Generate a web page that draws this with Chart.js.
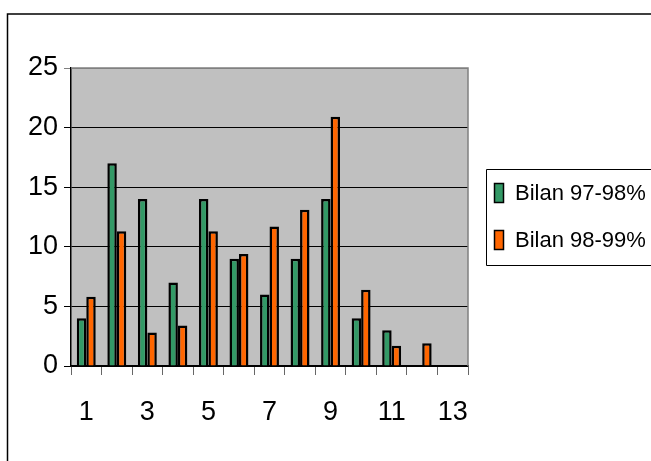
<!DOCTYPE html>
<html>
<head>
<meta charset="utf-8">
<script src="https://cdn.jsdelivr.net/npm/chart.js@4/dist/chart.umd.min.js"></script>
<style>
  html, body { margin: 0; padding: 0; background: #fff; }
  #wrap { width: 651px; height: 461px; }
</style>
</head>
<body>
<div id="wrap"><canvas id="bilan-chart" width="651" height="461"></canvas></div>
<script>
// données
const categories = ["1", "2", "3", "4", "5", "6", "7", "8", "9", "10", "11", "12", "13"];
const bilan9798 = [4, 17, 14, 7, 14, 9, 6, 9, 14, 4, 3, null, null];
const bilan9899 = [5.8, 11.3, 2.8, 3.4, 11.3, 9.4, 11.7, 13.1, 20.9, 6.4, 1.7, 1.9, null];
const yTicks = [0, 5, 10, 15, 20, 25];

const tickFont = { family: "'Liberation Sans', Arial", size: 27 };

// fond gris, cadre et légende façon Excel
const excelLook = {
  id: "excelLook",
  beforeDraw(chart) {
    const { ctx, chartArea: a } = chart;
    ctx.save();
    ctx.fillStyle = "#C0C0C0";
    ctx.fillRect(a.left, a.top, a.right - a.left, a.bottom - a.top);
    ctx.restore();
  },
  afterDraw(chart) {
    const { ctx, chartArea: a } = chart;
    ctx.save();
    // cadre extérieur
    ctx.strokeStyle = "#000";
    ctx.lineWidth = 1.5;
    ctx.beginPath();
    ctx.moveTo(7.5, 470);
    ctx.lineTo(7.5, 14);
    ctx.lineTo(660, 14);
    ctx.stroke();
    // bord gris de la zone de traçage
    ctx.strokeStyle = "#808080";
    ctx.lineWidth = 1.5;
    ctx.beginPath();
    ctx.moveTo(a.left, a.top);
    ctx.lineTo(a.right, a.top);
    ctx.lineTo(a.right, a.bottom);
    ctx.stroke();
    // légende
    ctx.strokeStyle = "#000";
    ctx.lineWidth = 1;
    ctx.beginPath();
    ctx.moveTo(660, 169.5);
    ctx.lineTo(486.5, 169.5);
    ctx.lineTo(486.5, 265.5);
    ctx.lineTo(660, 265.5);
    ctx.stroke();
    ctx.font = "22px 'Liberation Sans', Arial";
    ctx.textBaseline = "middle";
    chart.data.datasets.forEach((ds, i) => {
      const y = 193 + i * 47;
      ctx.fillStyle = ds.backgroundColor;
      ctx.fillRect(494, y - 9.5, 9, 19);
      ctx.strokeStyle = "#000";
      ctx.lineWidth = 1.5;
      ctx.strokeRect(494.5, y - 9.5, 9, 19);
      ctx.fillStyle = "#000";
      ctx.fillText(ds.label, 515, y + 1);
    });
    ctx.restore();
  },
};

const ctx = document.getElementById("bilan-chart").getContext("2d");
new Chart(ctx, {
  type: "bar",
  data: {
    labels: categories,
    datasets: [
      {
        label: "Bilan 97-98%",
        data: bilan9798,
        backgroundColor: "#339966",
        borderColor: "#000",
        borderWidth: 2.5,
      },
      {
        label: "Bilan 98-99%",
        data: bilan9899,
        backgroundColor: "#FF6600",
        borderColor: "#000",
        borderWidth: 2.5,
      },
    ],
  },
  options: {
    responsive: false,
    animation: false,
    layout: { padding: { left: 8, top: 68, right: 183, bottom: 0 } },
    datasets: { bar: { categoryPercentage: 0.62, barPercentage: 1 } },
    plugins: {
      legend: { display: false },
      tooltip: { enabled: false },
    },
    scales: {
      x: {
        afterFit(scale) { scale.height = 95; },
        grid: { drawOnChartArea: false, tickLength: 9, color: "#666", offset: true },
        border: { color: "#000", width: 1.5 },
        ticks: {
          autoSkip: false,
          maxRotation: 0,
          padding: 21,
          color: "#000",
          font: tickFont,
          callback: function (value, index) {
            return index % 2 === 0 ? categories[index] : "";
          },
        },
      },
      y: {
        min: 0,
        max: 25,
        afterFit(scale) { scale.width = 63; },
        afterBuildTicks(scale) { scale.ticks = yTicks.map((v) => ({ value: v })); },
        grid: {
          tickLength: 7,
          color: (c) => (c.tick && c.tick.value === 25 ? "#808080" : "#000"),
        },
        border: { color: "#000", width: 1.5 },
        ticks: { padding: 6, color: "#000", font: tickFont },
      },
    },
  },
  plugins: [excelLook],
});
</script>
</body>
</html>
